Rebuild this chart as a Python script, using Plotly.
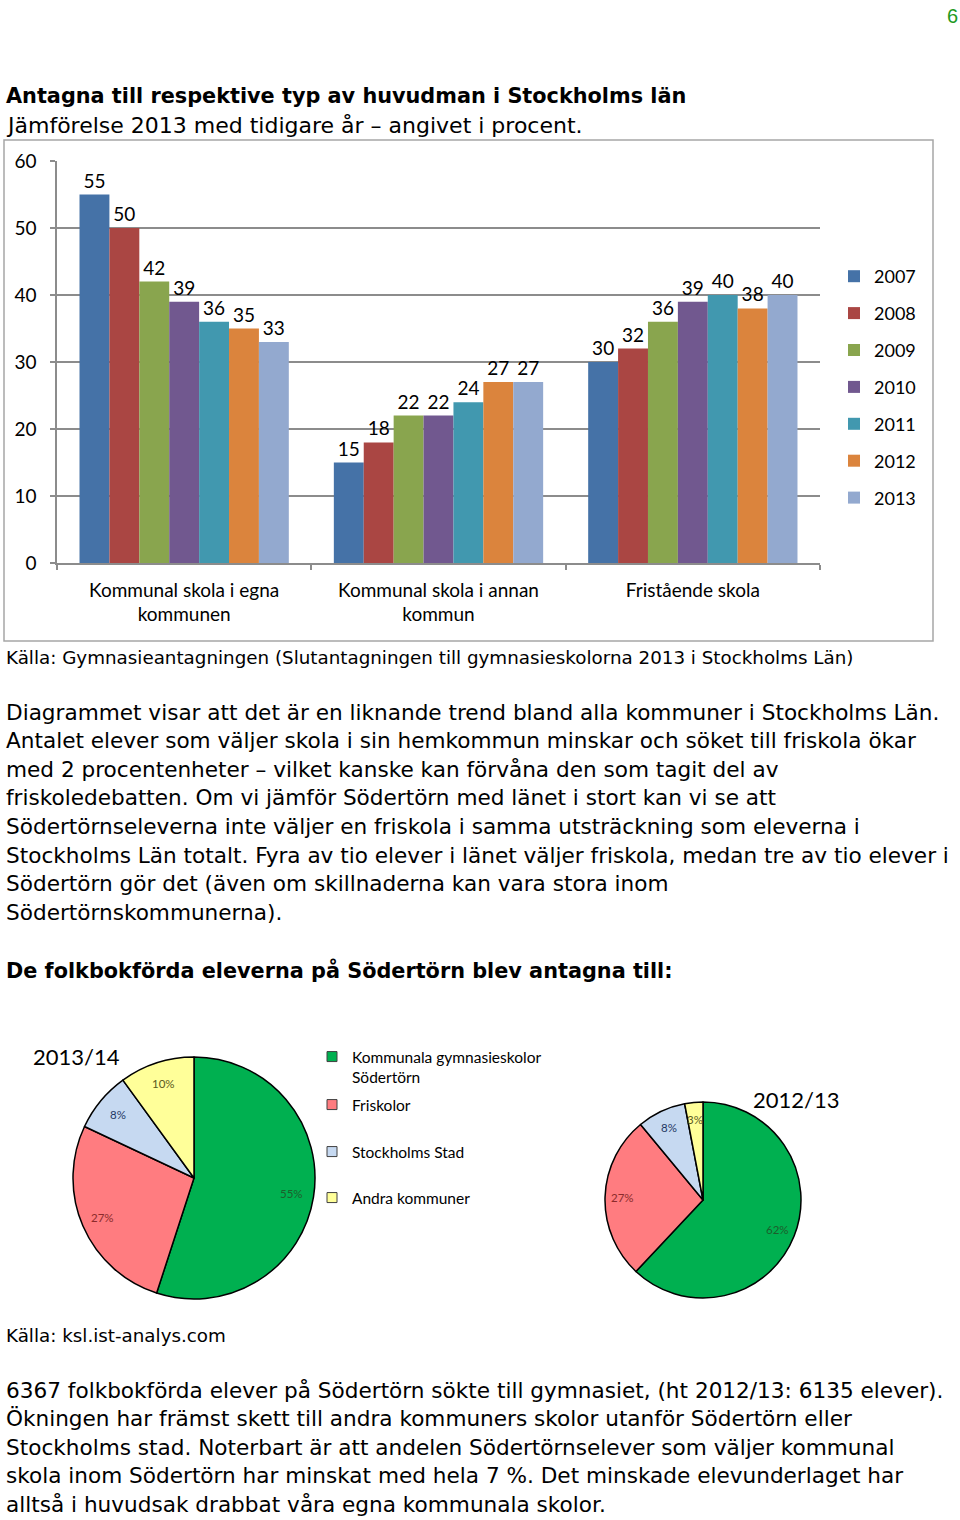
import math
import plotly.graph_objects as go

W, H = 960, 1520

# ---------------- data ----------------
categories = ["Kommunal skola i egna<br>kommunen", "Kommunal skola i annan<br>kommun", "Fristående skola"]
years = ["2007", "2008", "2009", "2010", "2011", "2012", "2013"]
v2007 = [55, 15, 30]
v2008 = [50, 18, 32]
v2009 = [42, 22, 36]
v2010 = [39, 22, 39]
v2011 = [36, 24, 40]
v2012 = [35, 27, 38]
v2013 = [33, 27, 40]
series = [v2007, v2008, v2009, v2010, v2011, v2012, v2013]
bar_colors = ["#4572A7", "#AA4643", "#89A54E", "#71588F", "#4198AF", "#DB843D", "#93A9CF"]
y_ticks = [0, 10, 20, 30, 40, 50, 60]

pie_labels = ["Kommunala gymnasieskolor<br>Södertörn", "Friskolor", "Stockholms Stad", "Andra kommuner"]
pie_2013 = [55, 27, 8, 10]
pie_2012 = [62, 27, 8, 3]
pie_colors = ["#00B050", "#FF7C80", "#C6D9F1", "#FFFF99"]
pie_text_colors = ["#1D5E2C", "#8B2B2B", "#1F3864", "#5A5A20"]
pie_titles = ["2013/14", "2012/13"]

title = "Antagna till respektive typ av huvudman i Stockholms län"
subtitle = "Jämförelse 2013 med tidigare år – angivet i procent."
source1 = "Källa: Gymnasieantagningen (Slutantagningen till gymnasieskolorna 2013 i Stockholms Län)"
para1 = [
    "Diagrammet visar att det är en liknande trend bland alla kommuner i Stockholms Län.",
    "Antalet elever som väljer skola i sin hemkommun minskar och söket till friskola ökar",
    "med 2 procentenheter – vilket kanske kan förvåna den som tagit del av",
    "friskoledebatten. Om vi jämför Södertörn med länet i stort kan vi se att",
    "Södertörnseleverna inte väljer en friskola i samma utsträckning som eleverna i",
    "Stockholms Län totalt. Fyra av tio elever i länet väljer friskola, medan tre av tio elever i",
    "Södertörn gör det (även om skillnaderna kan vara stora inom",
    "Södertörnskommunerna).",
]
heading2 = "De folkbokförda eleverna på Södertörn blev antagna till:"
source2 = "Källa: ksl.ist-analys.com"
para2 = [
    "6367 folkbokförda elever på Södertörn sökte till gymnasiet, (ht 2012/13: 6135 elever).",
    "Ökningen har främst skett till andra kommuners skolor utanför Södertörn eller",
    "Stockholms stad. Noterbart är att andelen Södertörnselever som väljer kommunal",
    "skola inom Södertörn har minskat med hela 7 %. Det minskade elevunderlaget har",
    "alltså i huvudsak drabbat våra egna kommunala skolor.",
]
page_no = "6"

# ---------------- helpers ----------------
BODY = "DejaVu Sans, Liberation Sans, Arial, sans-serif"
CAL = "Lato, 'Open Sans', sans-serif"


def px(x):
    return x / W


def py(y):
    return 1 - y / H


annotations = []
shapes = []


def text(s, x, y, size, bold=False, color="#000000", family=BODY, anchor="left"):
    annotations.append(dict(
        text=("<b>%s</b>" % s) if bold else s,
        x=px(x), y=py(y), xref="paper", yref="paper",
        xanchor=anchor, yanchor="middle", showarrow=False,
        font=dict(family=family, size=size, color=color),
    ))


fig = go.Figure()

# ---------------- bar chart ----------------
for yr, vals, col in zip(years, series, bar_colors):
    fig.add_trace(go.Bar(
        x=categories, y=vals, name=yr, marker=dict(color=col, line=dict(width=0)),
        text=vals, textposition="outside", constraintext="none", cliponaxis=False,
        textfont=dict(family=CAL, size=19, color="#000000"),
        legendgroup=yr, legend="legend", hoverinfo="skip",
    ))

shapes.append(dict(type="rect", xref="paper", yref="paper",
                   x0=px(4), x1=px(933), y0=py(641), y1=py(140),
                   line=dict(color="#A6A6A6", width=1.5), layer="below"))

# ---------------- pies ----------------
pie_boxes = [(73, 315, 1057, 1299), (605, 801, 1102, 1298)]
for vals, box in zip([pie_2013, pie_2012], pie_boxes):
    x0, x1, y0, y1 = box
    fig.add_trace(go.Pie(
        labels=pie_labels, values=vals, sort=False, direction="clockwise", rotation=0,
        marker=dict(colors=pie_colors, line=dict(color="#000000", width=1.5)),
        textinfo="none", showlegend=False, hoverinfo="skip",
        domain=dict(x=[px(x0), px(x1)], y=[py(y1), py(y0)]),
    ))
    cx, cy = (x0 + x1) / 2, (y0 + y1) / 2
    r = min(x1 - x0, y1 - y0) / 2
    total = sum(vals)
    cum = 0
    for v, tc in zip(vals, pie_text_colors):
        ang = 2 * math.pi * (cum + v / 2) / total
        cum += v
        lx = cx + 0.82 * r * math.sin(ang)
        ly = cy - 0.82 * r * math.cos(ang)
        text("%d%%" % round(100 * v / total), lx, ly, 11.5, color=tc, family=CAL, anchor="center")

# pie legends (one legend per entry to keep the document spacing)
pie_legend_y = [1040, 1088, 1135, 1181]
for k, (lab, col) in enumerate(zip(pie_labels, pie_colors)):
    fig.add_trace(go.Scatter(
        x=[None], y=[None], mode="markers", name=lab, xaxis="x2", yaxis="y2",
        marker=dict(symbol="square", size=10, color=col, line=dict(color="#404040", width=1)),
        legend="legend%d" % (k + 2), showlegend=True, hoverinfo="skip",
    ))

# ---------------- texts ----------------
text(page_no, 952, 16, 20, color="#1E9A1E", anchor="center", family="Liberation Sans, Arial")
text(title, 4, 96, 20.8, bold=True)
text(subtitle, 4, 125, 22)
text(source1, 4, 657, 18.3)
for i, line in enumerate(para1):
    text(line, 4, 712 + i * 28.6, 21.6)
text(heading2, 4, 970, 20.8, bold=True)
text(pie_titles[0], 76, 1056, 22, family=CAL, anchor="center")
text(pie_titles[1], 796, 1099, 22, family=CAL, anchor="center")
text(source2, 4, 1335, 18.3)
for i, line in enumerate(para2):
    text(line, 4, 1390 + i * 28.6, 21.6)

layout = dict(
    width=W, height=H, margin=dict(l=0, r=0, t=0, b=0, autoexpand=False),
    paper_bgcolor="white", plot_bgcolor="white",
    barmode="group", bargap=0.177, bargroupgap=0,
    xaxis=dict(domain=[px(57), px(820)], type="category", showline=True, linecolor="#8C8C8C",
               linewidth=1.5, ticks="outside", tickson="boundaries", ticklen=5, tickcolor="#8C8C8C",
               tickwidth=1.5, showgrid=False, tickfont=dict(family=CAL, size=19, color="#000000"),
               ticklabelstandoff=9, fixedrange=True),
    yaxis=dict(domain=[py(563), py(161)], range=[0, 60], tickvals=y_ticks, showline=True,
               linecolor="#8C8C8C", linewidth=1.5, ticks="outside", ticklen=5, tickcolor="#8C8C8C",
               tickwidth=1.5, showgrid=True, gridcolor="#8C8C8C", gridwidth=1.5, zeroline=False,
               tickfont=dict(family=CAL, size=19, color="#000000"), ticklabelstandoff=10,
               fixedrange=True),
    xaxis2=dict(domain=[0, 0.001], visible=False, anchor="y2"),
    yaxis2=dict(domain=[0, 0.001], visible=False, anchor="x2"),
    legend=dict(x=px(834), y=py(258), xanchor="left", yanchor="top", tracegroupgap=10.5,
                font=dict(family=CAL, size=18, color="#000000"), bgcolor="rgba(0,0,0,0)",
                itemclick=False, itemdoubleclick=False),
    annotations=annotations, shapes=shapes,
)
for k, yy in enumerate(pie_legend_y):
    layout["legend%d" % (k + 2)] = dict(
        x=px(312), y=py(yy), xanchor="left", yanchor="top", valign="top",
        font=dict(family=CAL, size=15.5, color="#000000"), bgcolor="rgba(0,0,0,0)",
        itemclick=False, itemdoubleclick=False)

fig.update_layout(**layout)
fig.write_html(
    "out.html",
    config={"displayModeBar": False, "staticPlot": False},
    post_script=(
        "document.body.style.margin='0';"
        "var d=document.getElementById('{plot_id}');"
        "d.style.position='absolute';d.style.left='0px';d.style.top='0px';"
    ),
)
